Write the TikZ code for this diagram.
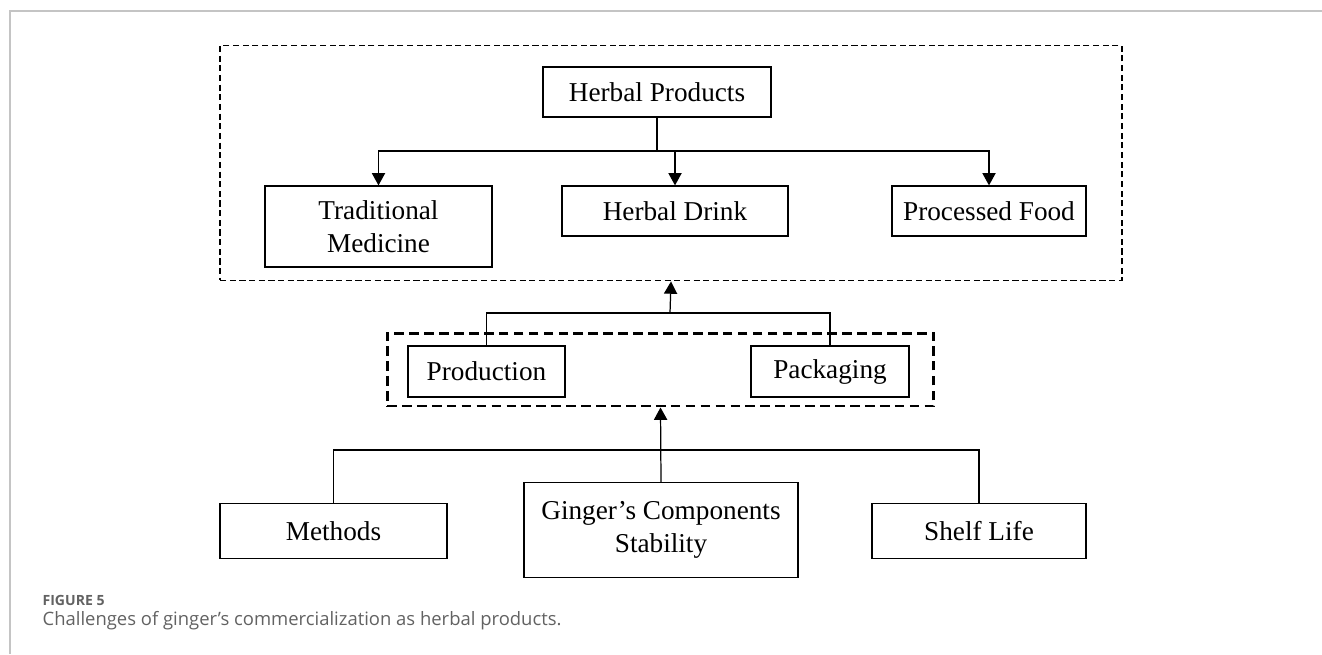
\documentclass[tikz,border=0pt]{standalone}
\usepackage{fontspec}
\setmainfont{Liberation Serif}
\newfontfamily\capfont{Open Sans}
\usetikzlibrary{arrows.meta}

\definecolor{framegray}{HTML}{C4C4C4}
\definecolor{capgray}{HTML}{626262}

\tikzset{every path/.style={line width=0.7pt}}
\tikzset{
  prodbox/.style={draw,rectangle,inner sep=0pt,align=center,
    font=\fontsize{15.5}{19}\selectfont},
  groupbox/.style={draw,rectangle,inner sep=0pt},
  uparrow/.style={-{Triangle[length=7pt,width=7.5pt]}}
}

\begin{document}
\begin{tikzpicture}[x=0.02cm,y=-0.02cm]
    \useasboundingbox (0,0) rectangle (1322,654);
    \draw[framegray,line width=1.2pt] (10,654) -- (10,11) -- (1322,11);

    \node[groupbox,line width=1.1pt,dash pattern=on 3.5pt off 2pt,
      minimum width=18.04cm,minimum height=4.7cm] (outer) at (671,163) {};
    \node[prodbox,minimum width=4.56cm,minimum height=1cm] (hp) at (657,92) {Herbal Products};
    \node[prodbox,minimum width=4.54cm,minimum height=1.62cm] (tm) at (378.5,226.5) {Traditional\\Medicine};
    \node[prodbox,minimum width=4.52cm,minimum height=1cm] (hd) at (675,211) {Herbal Drink};
    \node[prodbox,minimum width=3.88cm,minimum height=1cm] (pf) at (989,211) {Processed Food};
    \coordinate (j1) at (657,151);
    \draw (hp.south) -- (j1);
    \draw[uparrow] (j1) -| (tm.north);
    \draw[uparrow] (j1) -| (pf.north);
    \draw[uparrow] (hd.north |- j1) -- (hd.north);

    \node[groupbox,line width=1.7pt,dash pattern=on 5.5pt off 3pt,
      minimum width=10.94cm,minimum height=1.46cm] (inner) at (660.5,369.5) {};
    \node[prodbox,minimum width=3.14cm,minimum height=1.02cm] (prod) at (486.5,371.5) {Production};
    \node[prodbox,minimum width=3.16cm,minimum height=1.02cm] (pack) at (830,371.5) {Packaging};
    \coordinate (j2) at (670,313);
    \draw (prod.north) |- (j2) -| (pack.north);
    \draw[uparrow] (j2) -- (outer.south);

    \node[prodbox,minimum width=4.54cm,minimum height=1.1cm] (meth) at (333.5,531) {Methods};
    \node[prodbox,minimum width=5.48cm,minimum height=1.9cm] (ging) at (661,530) {Ginger’s Components\\Stability};
    \node[prodbox,minimum width=4.28cm,minimum height=1.1cm] (shelf) at (979,531) {Shelf Life};
    \coordinate (j3) at (661,450);
    \draw (meth.north) |- (j3) -| (shelf.north);
    \draw[uparrow] (ging.north) -- (inner.south);

    \node[anchor=west,inner sep=0pt,text=capgray,font=\capfont\bfseries\fontsize{8}{10}\selectfont] (fig) at (42,600) {FIGURE 5};
    \node[anchor=west,inner sep=0pt,text=capgray,font=\capfont\fontsize{10.5}{12}\selectfont] (cap) at (42,621) {Challenges of ginger’s commercialization as herbal products.};
\end{tikzpicture}
\end{document}
